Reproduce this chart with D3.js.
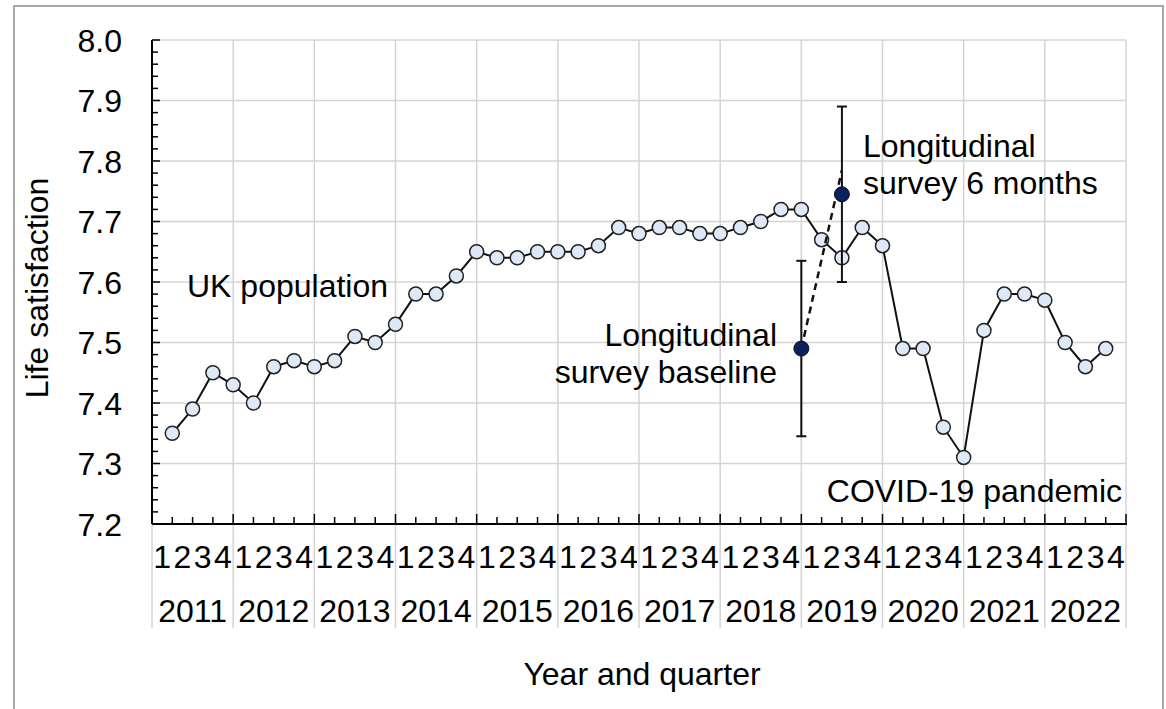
<!DOCTYPE html>
<html>
<head>
<meta charset="utf-8">
<script src="https://cdn.jsdelivr.net/npm/d3@7"></script>
<style>
  body { margin: 0; background: #fff; }
  svg { display: block; font-family: "Liberation Sans", Arial, sans-serif; }
</style>
</head>
<body>
<svg id="chart" width="1166" height="709"></svg>
<script>
// data
const years = [2011, 2012, 2013, 2014, 2015, 2016, 2017, 2018, 2019, 2020, 2021, 2022]
const quarterLabels = ["1", "2", "3", "4"]
// UK population, 2011 Q1 .. 2022 Q3
const ukValues = [
  7.35, 7.39, 7.45, 7.43,
  7.40, 7.46, 7.47, 7.46,
  7.47, 7.51, 7.50, 7.53,
  7.58, 7.58, 7.61, 7.65,
  7.64, 7.64, 7.65, 7.65,
  7.65, 7.66, 7.69, 7.68,
  7.69, 7.69, 7.68, 7.68,
  7.69, 7.70, 7.72, 7.72,
  7.67, 7.64, 7.69, 7.66,
  7.49, 7.49, 7.36, 7.31,
  7.52, 7.58, 7.58, 7.57,
  7.50, 7.46, 7.49
]
// longitudinal survey: quarter position, mean, low, high
const survey = [
  {name: "baseline", q: 32, mean: 7.49, lo: 7.345, hi: 7.635},
  {name: "6 months", q: 34, mean: 7.745, lo: 7.60, hi: 7.89}
]
const surveyTrend = [7.49, 7.785]
const yTicks = [7.2, 7.3, 7.4, 7.5, 7.6, 7.7, 7.8, 7.9, 8.0]

//
// setup
//
const svg = d3.select("#chart")
const plotLeft = 152, plotRight = 1126, plotTop = 40, plotBottom = 524
const labelBottom = 628
const nQ = years.length * 4
const fontSize = 32

const x = d3.scaleLinear().domain([0, nQ]).range([plotLeft, plotRight])
const y = d3.scaleLinear().domain([7.2, 8.0]).range([plotBottom, plotTop])

const grid = "#d4d4d4"

// outer frame
svg.append("rect")
  .attr("x", 14).attr("y", 6)
  .attr("width", 1149).attr("height", 704)
  .attr("fill", "none")
  .attr("stroke", "#a8a8a8")
  .attr("stroke-width", 2)

// horizontal gridlines
svg.append("g").selectAll("line")
  .data(yTicks.slice(1))
  .join("line")
  .attr("x1", plotLeft).attr("x2", plotRight)
  .attr("y1", d => y(d)).attr("y2", d => y(d))
  .attr("stroke", grid).attr("stroke-width", 1.5)

// vertical year gridlines (run down through the labels)
svg.append("g").selectAll("line")
  .data(d3.range(years.length + 1))
  .join("line")
  .attr("x1", d => x(d * 4)).attr("x2", d => x(d * 4))
  .attr("y1", plotTop).attr("y2", labelBottom)
  .attr("stroke", grid).attr("stroke-width", 1.5)

// y axis with minor ticks
const yAxis = svg.append("g").attr("stroke", "#000")
yAxis.append("line")
  .attr("x1", plotLeft).attr("x2", plotLeft)
  .attr("y1", plotTop).attr("y2", plotBottom)
  .attr("stroke-width", 2)
yAxis.selectAll(".minor")
  .data(d3.range(0, 41))
  .join("line")
  .attr("class", "minor")
  .attr("x1", plotLeft)
  .attr("x2", d => plotLeft + (d % 5 == 0 ? 8 : 6))
  .attr("y1", d => y(7.2 + d * 0.02))
  .attr("y2", d => y(7.2 + d * 0.02))
  .attr("stroke-width", 1.5)

svg.append("g").selectAll("text")
  .data(yTicks)
  .join("text")
  .attr("x", 122)
  .attr("y", d => y(d))
  .attr("dy", "0.36em")
  .attr("text-anchor", "end")
  .attr("font-size", fontSize)
  .text(d => d.toFixed(1))

// x axis with quarter ticks
const xAxis = svg.append("g").attr("stroke", "#000")
xAxis.append("line")
  .attr("x1", plotLeft).attr("x2", plotRight + 1)
  .attr("y1", plotBottom).attr("y2", plotBottom)
  .attr("stroke-width", 2)
xAxis.selectAll(".qtick")
  .data(d3.range(1, nQ + 1))
  .join("line")
  .attr("class", "qtick")
  .attr("x1", d => x(d)).attr("x2", d => x(d))
  .attr("y1", plotBottom)
  .attr("y2", d => plotBottom - (d % 4 == 0 ? 10 : 7))
  .attr("stroke-width", 1.5)

// quarter labels, centred in each quarter
svg.append("g").selectAll("text")
  .data(d3.range(nQ))
  .join("text")
  .attr("x", d => x(d + 0.5))
  .attr("y", 568)
  .attr("text-anchor", "middle")
  .attr("font-size", fontSize)
  .text(d => quarterLabels[d % 4])

// year labels
svg.append("g").selectAll("text")
  .data(years)
  .join("text")
  .attr("x", (d, i) => x(i * 4 + 2))
  .attr("y", 622)
  .attr("text-anchor", "middle")
  .attr("font-size", fontSize)
  .text(d => d)

// axis titles
svg.append("text")
  .attr("x", 642).attr("y", 685)
  .attr("text-anchor", "middle")
  .attr("font-size", fontSize)
  .text("Year and quarter")

svg.append("text")
  .attr("transform", "translate(48,288) rotate(-90)")
  .attr("text-anchor", "middle")
  .attr("font-size", fontSize)
  .text("Life satisfaction")

// UK population line
const line = d3.line()
  .x((d, i) => x(i + 1))
  .y(d => y(d))

svg.append("path")
  .datum(ukValues)
  .attr("d", line)
  .attr("fill", "none")
  .attr("stroke", "#111")
  .attr("stroke-width", 2)

svg.append("g").selectAll("circle")
  .data(ukValues)
  .join("circle")
  .attr("cx", (d, i) => x(i + 1))
  .attr("cy", d => y(d))
  .attr("r", 7)
  .attr("fill", "#dde9f6")
  .attr("stroke", "#222")
  .attr("stroke-width", 1.5)

// longitudinal survey: error bars, dashed link, points
const eb = svg.append("g").attr("stroke", "#111").attr("stroke-width", 2)
survey.forEach(function(s) {
  const cx = x(s.q)
  eb.append("line").attr("x1", cx).attr("x2", cx).attr("y1", y(s.lo)).attr("y2", y(s.hi))
  eb.append("line").attr("x1", cx - 5).attr("x2", cx + 5).attr("y1", y(s.lo)).attr("y2", y(s.lo))
  eb.append("line").attr("x1", cx - 5).attr("x2", cx + 5).attr("y1", y(s.hi)).attr("y2", y(s.hi))
})

svg.append("line")
  .attr("x1", x(survey[0].q)).attr("y1", y(surveyTrend[0]))
  .attr("x2", x(survey[1].q)).attr("y2", y(surveyTrend[1]))
  .attr("stroke", "#111")
  .attr("stroke-width", 2.5)
  .attr("stroke-dasharray", "7,5")

svg.append("g").selectAll("circle")
  .data(survey)
  .join("circle")
  .attr("cx", d => x(d.q))
  .attr("cy", d => y(d.mean))
  .attr("r", 7.5)
  .attr("fill", "#0c1f5e")
  .attr("stroke", "#111")
  .attr("stroke-width", 1)

// annotations
function note(lines, xPos, yPos, anchor) {
  const t = svg.append("text")
    .attr("x", xPos).attr("y", yPos)
    .attr("text-anchor", anchor)
    .attr("font-size", fontSize)
  lines.forEach(function(l, i) {
    t.append("tspan").attr("x", xPos).attr("dy", i == 0 ? 0 : 37).text(l)
  })
}

note(["UK population"], 187, 297, "start")
note(["Longitudinal", "survey baseline"], 777, 346, "end")
note(["Longitudinal", "survey 6 months"], 863, 157, "start")
note(["COVID-19 pandemic"], 1122, 502, "end")
</script>
</body>
</html>
